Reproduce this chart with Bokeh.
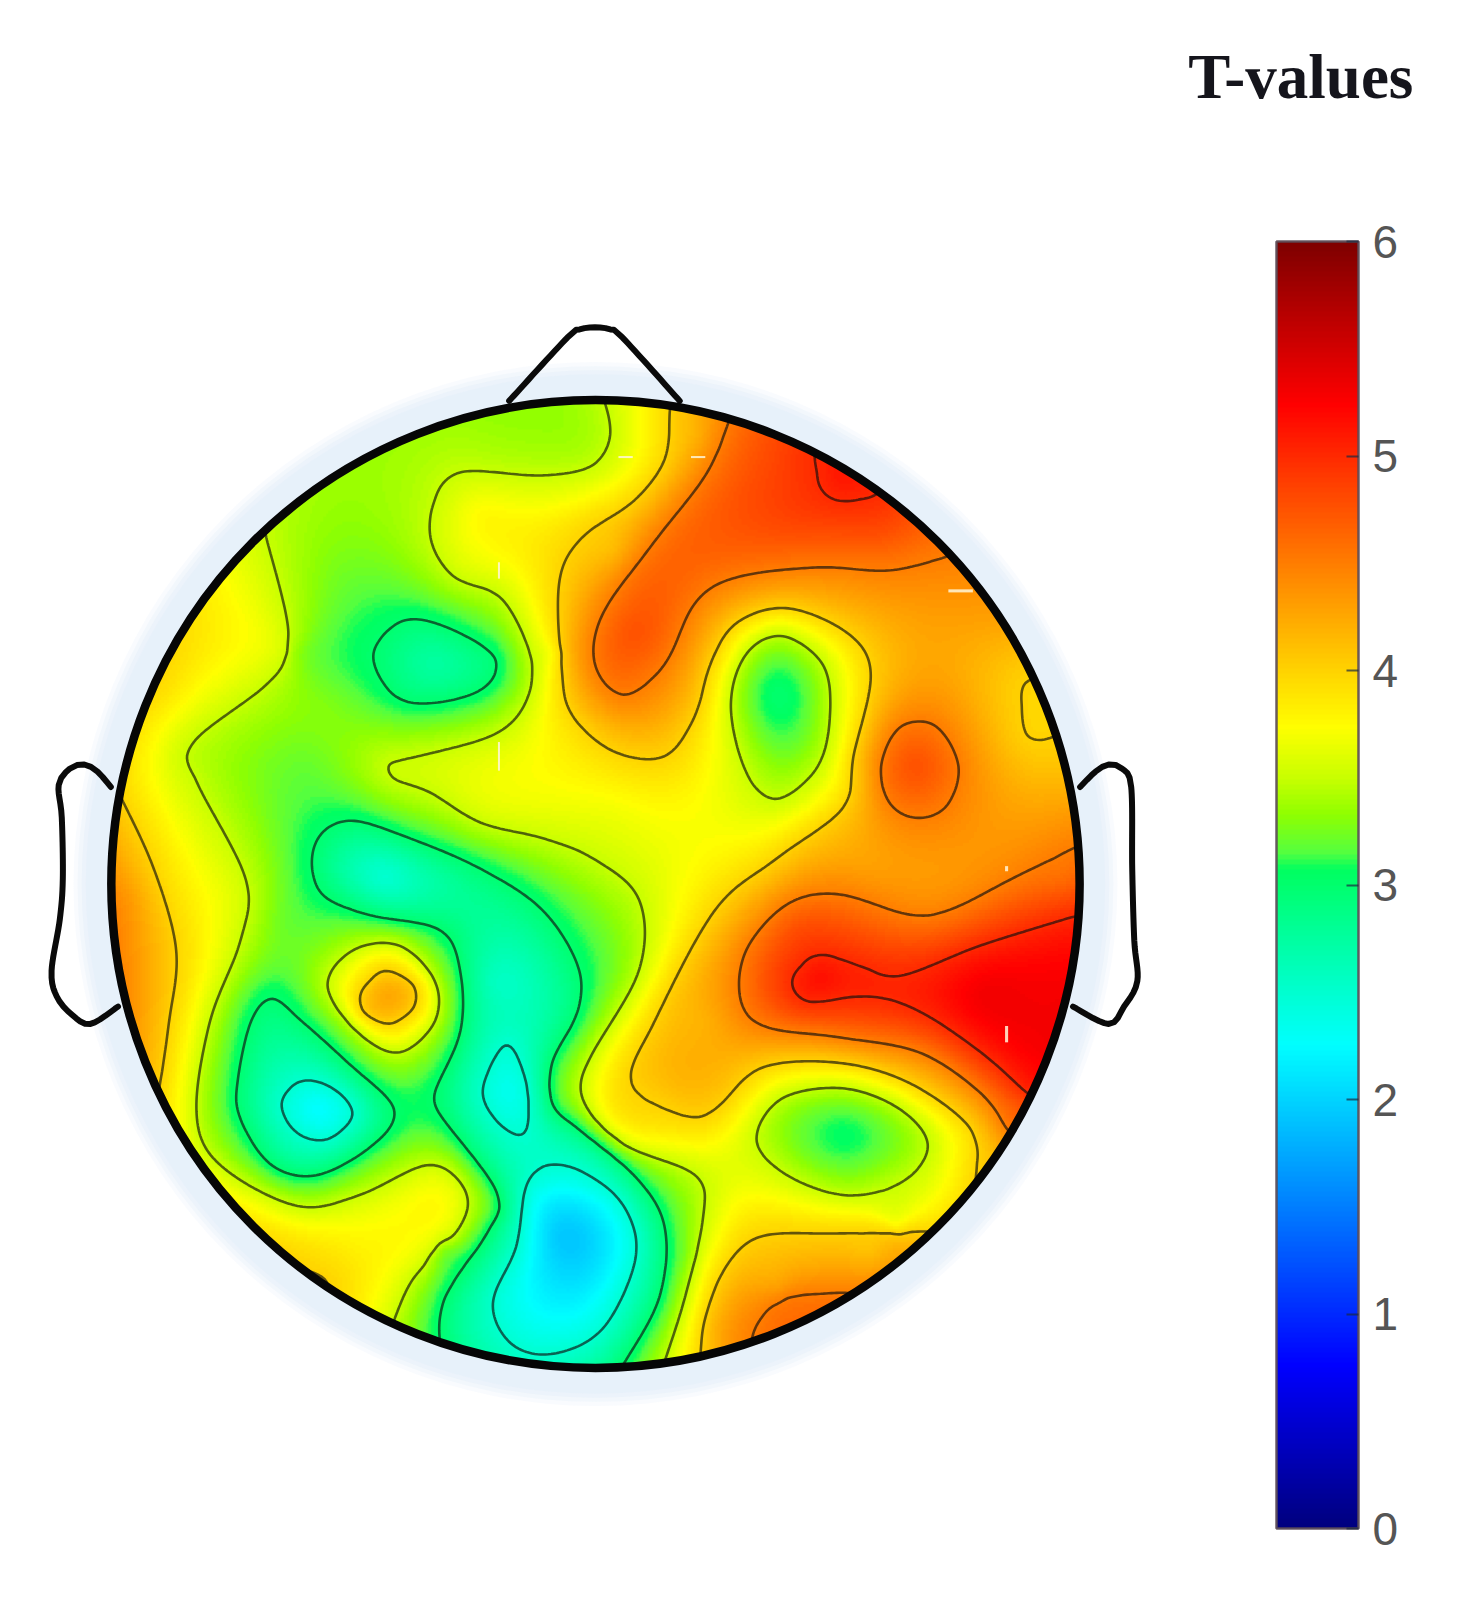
import numpy as np
from bokeh.plotting import figure
from bokeh.models import LinearColorMapper, ColorBar, FixedTicker
from bokeh.core.properties import value
from bokeh.embed import file_html
from bokeh.resources import INLINE

# ---------- data (x, y in picture units, T-value) ----------
TICKS = [0, 1, 2, 3, 4, 5, 6]
T_MIN, T_MAX = 0, 6
TITLE = "T-values"
LEVELS = [2.5, 3.0, 3.5, 4.0, 4.5, 5.0]

# colour scale: T-value and colour
bar_t = [0, 0.75, 2.25, 2.75, 3.07, 3.15, 3.33, 3.5, 3.74, 5.25, 6]
bar_c = ["#000080", "#0000ff", "#00ffff", "#00ffa0", "#00ff60", "#55ff40", "#90ff00", "#c8ff00", "#ffff00", "#ff0000", "#800000"]

# isolines: (T, closed?, points)
iso_a = (4.0, False, [(118,780),(150,850),(172,930),(165,1000),(158,1050)])
iso_b = (3.5, False, [(260,525),(282,620),(265,665),(190,725),(190,760),(240,860),(235,920),(205,1000),(192,1090),(215,1140),(290,1180),(350,1170),(420,1140),(455,1165),(450,1200),(405,1250),(385,1293)])
iso_c = (3.5, False, [(592,395),(597,425),(580,455),(530,465),(450,462),(425,490),(422,530),(445,565),(490,585),(518,640),(515,685),(480,720),(380,748),(385,762),(420,775),(470,805),(530,820),(580,840),(625,880),(625,950),(575,1040),(572,1080),(610,1120),(680,1150),(688,1190),(670,1270),(650,1333)])
iso_d = (3.0, False, [(610,1335),(645,1270),(650,1200),(620,1150),(560,1100),(540,1080),(540,1040),(565,990),(565,945),(530,890),(470,850),(400,820),(345,803),(315,815),(305,840),(315,875),(360,895),(430,910),(450,950),(450,1010),(425,1070),(430,1090),(485,1165),(480,1200),(435,1270),(430,1310)])
iso_e = (3.5, True, [(320,965),(345,930),(390,925),(425,960),(425,1000),(390,1030),(350,1010)])
iso_f = (4.0, True, [(352,975),(375,950),(405,965),(405,985),(380,1002),(355,990)])
iso_g = (3.0, True, [(232,1060),(245,1000),(265,977),(290,995),(340,1040),(385,1085),(365,1120),(310,1150),(265,1140),(235,1095)])
iso_h = (2.5, True, [(275,1080),(295,1058),(325,1065),(345,1090),(320,1115),(290,1108)])
iso_i = (2.5, True, [(472,1070),(495,1022),(515,1060),(515,1105),(495,1105)])
iso_j = (2.5, True, [(540,1140),(515,1160),(505,1220),(482,1275),(500,1315),(540,1325),(590,1300),(622,1230),(610,1180),(575,1150)])
iso_k = (3.0, True, [(365,640),(395,607),(440,615),(485,645),(470,675),(420,688),(385,680)])
iso_l = (4.0, False, [(655,405),(650,450),(620,490),(570,525),(547,570),(550,660),(560,700),(600,735),(650,740),(680,700),(695,650),(720,610),(770,595),(830,620),(852,660),(835,740),(825,790),(760,840),(700,890),(640,1000),(618,1060),(670,1092),(700,1085),(745,1045),(820,1040),(890,1060),(950,1105),(955,1150)])
iso_m = (4.5, False, [(712,415),(690,465),(640,530),(590,600),(582,650),(610,680),(650,650),(680,590),(720,565),(800,555),(870,558),(925,545)])
iso_n = (5.0, False, [(797,445),(805,480),(825,490),(855,485)])
iso_o = (3.5, True, [(715,690),(730,640),(765,622),(805,650),(812,700),(800,750),(760,782),(730,755)])
iso_p = (4.5, True, [(862,750),(880,712),(915,710),(938,750),(925,790),(895,800),(870,785)])
iso_q = (4.0, False, [(1003,668),(1000,690),(1005,720),(1027,722)])
iso_r = (4.5, False, [(1050,830),(990,860),(930,890),(890,895),(820,875),(770,885),(730,930),(725,980),(750,1005),(820,1015),(900,1030),(960,1070),(985,1105)])
iso_s = (5.0, False, [(1050,897),(960,925),(880,955),(840,945),(800,935),(775,960),(790,980),(850,975),(900,990),(960,1030),(1005,1070)])
iso_t = (3.5, True, [(740,1115),(765,1075),(825,1065),(880,1085),(908,1120),(885,1155),(830,1170),(770,1150)])
iso_u = (4.0, False, [(915,1205),(820,1207),(745,1210),(710,1240),(690,1290),(685,1330)])
iso_v = (4.5, False, [(825,1265),(770,1270),(745,1290),(735,1315)])
iso_w = (4.0, False, [(300,1243),(318,1252),(322,1262)])
ISOLINES = [iso_a, iso_b, iso_c, iso_d, iso_e, iso_f, iso_g, iso_h, iso_i, iso_j, iso_k, iso_l,
            iso_m, iso_n, iso_o, iso_p, iso_q, iso_r, iso_s, iso_t, iso_u, iso_v, iso_w]

# single readings between the isolines
spot_x = [425,310,495,545,550,530,378,760,760,825,898,376,430,480,500,340,620,700,780,820,860,1000,960,1030,850,800,
          780,950,1000,850,130,125,200,160,140,300,290,330,360,450,520,270,470,500,540,600,700,660,350,300,400,760,800,
          850,780,700,1000,980,690,660,875,720,668,430,600,1040,1030,950,1000,685,750,320,300]
spot_y = [648,1085,1065,1210,1260,1180,975,680,730,1110,750,860,860,960,1000,850,620,520,510,470,520,980,970,950,960,955,
          905,650,800,850,880,940,600,680,740,750,640,560,500,430,420,900,500,530,640,790,800,870,1220,1220,1200,1260,1240,
          1225,1290,1300,1080,1130,1000,1060,1200,1180,1230,1225,540,860,1000,480,600,430,450,690,590]
spot_t = [2.75,2.25,2.35,1.95,2.1,2.2,4.25,3.0,3.2,3.05,4.75,2.5,2.75,2.6,2.6,2.7,4.75,4.7,4.85,5.1,4.8,5.3,5.3,5.25,5.05,5.15,
          4.75,4.2,4.3,4.3,4.3,4.4,3.85,3.9,3.8,3.2,3.33,3.25,3.35,3.4,3.35,3.25,3.75,3.8,3.75,3.7,3.7,3.7,3.8,3.9,3.75,4.3,4.25,
          4.1,4.6,4.2,4.8,4.2,4.2,4.15,3.75,3.75,3.25,3.25,4.15,4.6,5.3,4.55,4.3,4.25,4.8,3.28,3.35]

# head outline, nose and ears
head_x, head_y, head_r = 582.5, 865.0, 474.0
nose_x = [498,555,567,582,597,609,665]
nose_y = [392,330,322,320,322,330,392]
ear_l_x = [108,95,82,68,57,60,61,58,50,55,70,88,115]
ear_l_y = [770,755,748,752,768,800,860,900,950,975,993,1002,985]
ear_r_x = [1057,1072,1085,1098,1107,1108,1110,1113,1100,1085,1050]
ear_r_y = [770,755,748,752,770,850,920,960,985,1002,985]

# small pale dashes on the map
dash_x = [488,488,612,683,940,985,985]
dash_y = [558,740,447,447,578,1012,850]
dash_w = [2,2,14,14,24,3,3]
dash_h = [16,28,2,2,3,16,5]

# ---------- helpers ----------
S = 1479 / 1448
W, H = 1463, 1585


def Y(v):
    return 1568 - np.asarray(v, dtype=float)


def smooth(pts, closed, step=14.0):
    p = np.asarray(pts, dtype=float)
    n = len(p)
    out = []
    segs = n if closed else n - 1
    for i in range(segs):
        if closed:
            a, b, c, d = p[(i - 1) % n], p[i], p[(i + 1) % n], p[(i + 2) % n]
        else:
            a, b, c, d = p[max(i - 1, 0)], p[i], p[i + 1], p[min(i + 2, n - 1)]
        k = max(int(np.hypot(*(c - b)) / step), 1)
        for u in np.arange(k) / k:
            out.append(0.5 * (2 * b + (c - a) * u + (2 * a - 5 * b + 4 * c - d) * u ** 2 + (3 * b - a - 3 * c + d) * u ** 3))
    if not closed:
        out.append(p[-1])
    return np.array(out)


def ramp(n=256):
    t = np.linspace(T_MIN, T_MAX, n)
    rgb = np.array([[int(c[i:i + 2], 16) for i in (1, 3, 5)] for c in bar_c], float)
    ch = [np.interp(t, bar_t, rgb[:, j]) for j in range(3)]
    return ["#%02x%02x%02x" % (int(a), int(b), int(c)) for a, b, c in zip(*ch)]


# ---------- surface through the readings (thin-plate, as a topographic map does) ----------
px, py, pt = [], [], []
for lev, closed, pts in ISOLINES:
    q = smooth(pts, closed)
    px += list(q[:, 0]); py += list(q[:, 1]); pt += [lev] * len(q)
px += spot_x; py += spot_y; pt += spot_t
px = (np.array(px, float) - head_x) / head_r
py = (np.array(py, float) - head_y) / head_r
pt = np.array(pt, float)


def kernel(d2):
    return 0.5 * d2 * np.log(d2 + 1e-12)


N = len(px)
A = kernel((px[:, None] - px[None, :]) ** 2 + (py[:, None] - py[None, :]) ** 2)
A[np.diag_indices(N)] += 2e-4
P = np.column_stack([np.ones(N), px, py])
M = np.block([[A, P], [P.T, np.zeros((3, 3))]])
sol = np.linalg.solve(M, np.concatenate([pt, np.zeros(3)]))
wts, poly = sol[:N], sol[N:]

G = 360
gx = np.linspace(-1, 1, G)
gy = np.linspace(-1, 1, G)
XX, YY = np.meshgrid(gx, gy)
Z = np.full(XX.shape, np.nan)
inside = XX ** 2 + YY ** 2 <= 1.0
ix, iy = XX[inside], YY[inside]
vals = np.empty(ix.shape)
for s in range(0, len(ix), 4000):
    e = s + 4000
    k = kernel((ix[s:e, None] - px[None, :]) ** 2 + (iy[s:e, None] - py[None, :]) ** 2)
    vals[s:e] = k @ wts + poly[0] + poly[1] * ix[s:e] + poly[2] * iy[s:e]
Z[inside] = vals
# grid rows run from the picture's top downward; flip so that row 0 is the bottom
Z = Z[::-1, :]
mx = head_x + gx * head_r
my = (1568 - head_y) + gy * head_r

# ---------- figure ----------
p = figure(width=W, height=H, output_backend="svg", toolbar_location=None,
           x_range=(0, W / S), y_range=(1568 - H / S, 1568),
           x_axis_location=None, y_axis_location=None, min_border=0, outline_line_color=None,
           background_fill_color="white", border_fill_color="white")
p.grid.visible = False

for rad, al in [(511, 0.25), (507, 0.35), (503, 0.5), (499, 0.8)]:
    p.circle(x=[head_x], y=[1568 - head_y], radius=rad, fill_color="#e6f0fa", fill_alpha=al, line_color=None)

mapper = LinearColorMapper(palette=ramp(), low=T_MIN, high=T_MAX, nan_color="rgba(0,0,0,0)")
dx = mx[1] - mx[0]
p.image(image=[Z], x=mx[0] - dx / 2, y=my[0] - dx / 2, dw=mx[-1] - mx[0] + dx, dh=my[-1] - my[0] + dx,
        color_mapper=mapper)
p.contour(mx, my, Z, levels=LEVELS, line_color="#101010", line_alpha=0.65, line_width=2.6, fill_color=None)

p.rect(x=dash_x, y=list(Y(dash_y)), width=dash_w, height=dash_h, fill_color="#fff6d8", fill_alpha=0.85, line_color=None)

for xs, ys, closed in [(nose_x, nose_y, False), (ear_l_x, ear_l_y, False), (ear_r_x, ear_r_y, False)]:
    c = smooth(list(zip(xs, ys)), closed, step=5.0)
    p.line(c[:, 0], Y(c[:, 1]), line_color="#0a0a0a", line_width=6, line_join="round", line_cap="round")

p.circle(x=[head_x], y=[1568 - head_y], radius=head_r, fill_color=None, line_color="#060606", line_width=8.5)

p.text(x=[1273], y=[1568 - 75], text=[TITLE], text_font=value("Liberation Serif"), text_font_style="bold",
       text_font_size="63px", text_color="#15151c", text_align="center", text_baseline="middle")

cb = ColorBar(color_mapper=mapper, ticker=FixedTicker(ticks=TICKS), location=(1276, H - 1528),
              width=82, height=1287, padding=0, margin=0,
              major_label_text_font="Liberation Sans", major_label_text_font_size="46px",
              major_label_text_color="#555555", label_standoff=14,
              major_tick_line_color="#1a2a40", major_tick_line_alpha=0.7, major_tick_line_width=2,
              major_tick_in=12, major_tick_out=0, minor_tick_line_color=None,
              bar_line_color="#5a4a55", bar_line_width=2.5, bar_line_alpha=0.9)
p.add_layout(cb, "center")

open("out.html", "w").write(file_html(p, INLINE))
